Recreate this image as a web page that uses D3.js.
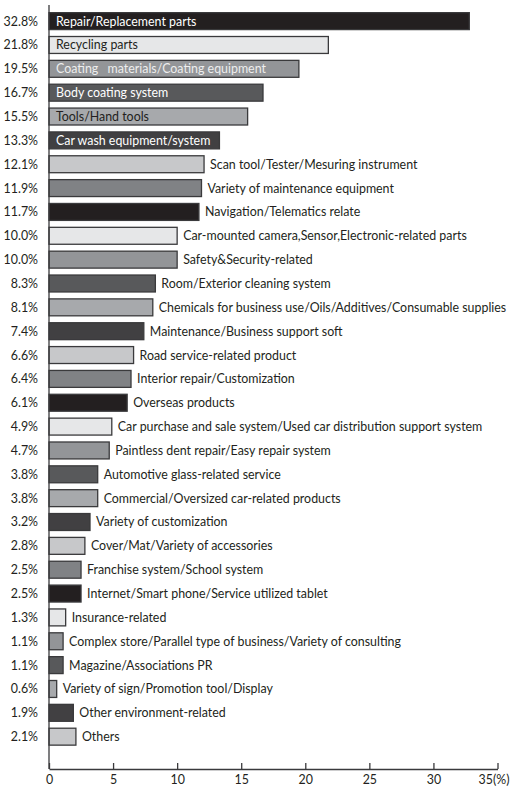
<!DOCTYPE html>
<html>
<head>
<meta charset="utf-8">
<script src="https://cdn.jsdelivr.net/npm/d3@7"></script>
<style>
  body { margin: 0; background: #fff; }
  svg { display: block; font-family: Lato, "Liberation Sans", sans-serif; }
</style>
</head>
<body>
<svg id="chart"></svg>
<script>
// Categories, top to bottom
const categories = [
    "Repair/Replacement parts",
    "Recycling parts",
    "Coating\u2003materials/Coating equipment",
    "Body coating system",
    "Tools/Hand tools",
    "Car wash equipment/system",
    "Scan tool/Tester/Mesuring instrument",
    "Variety of maintenance equipment",
    "Navigation/Telematics relate",
    "Car-mounted camera,Sensor,Electronic-related parts",
    "Safety&Security-related",
    "Room/Exterior cleaning system",
    "Chemicals for business use/Oils/Additives/Consumable supplies",
    "Maintenance/Business support soft",
    "Road service-related product",
    "Interior repair/Customization",
    "Overseas products",
    "Car purchase and sale system/Used car distribution support system",
    "Paintless dent repair/Easy repair system",
    "Automotive glass-related service",
    "Commercial/Oversized car-related products",
    "Variety of customization",
    "Cover/Mat/Variety of accessories",
    "Franchise system/School system",
    "Internet/Smart phone/Service utilized tablet",
    "Insurance-related",
    "Complex store/Parallel type of business/Variety of consulting",
    "Magazine/Associations PR",
    "Variety of sign/Promotion tool/Display",
    "Other environment-related",
    "Others"
];

// Share of answers (%)
const values = [
    32.8, 21.8, 19.5, 16.7, 15.5, 13.3, 12.1, 11.9, 11.7, 10.0,
    10.0, 8.3, 8.1, 7.4, 6.6, 6.4, 6.1, 4.9, 4.7, 3.8,
    3.8, 3.2, 2.8, 2.5, 2.5, 1.3, 1.1, 1.1, 0.6, 1.9,
    2.1
];

const xTicks = [0, 5, 10, 15, 20, 25, 30, 35];

// Fill cycle repeats every 8 bars
const fills = ["#231f20", "#e6e7e8", "#939598", "#58595b", "#a7a9ac", "#414042", "#c7c8ca", "#808285"];
const insideText = ["#ffffff", "#231f20", "#eeeeee", "#ffffff", "#231f20", "#ffffff", "#231f20", "#ffffff"];

const width = 513;
const height = 787;
const axisY = 769;
const fontSize = 12.4;

const svg = d3.select("#chart")
    .attr("width", width)
    .attr("height", height);

const x = d3.scaleLinear()
    .domain([0, 35])
    .range([49, 497.5]);

const y = d3.scaleBand()
    .domain(d3.range(categories.length))
    .range([9.2, 748.6])
    .paddingInner(0.29)
    .paddingOuter(0.145);

const data = categories.map((c, i) => ({ name: c, value: values[i], i: i }));

// Bars
svg.selectAll(".bar")
    .data(data)
    .enter()
    .append("rect")
    .attr("class", "bar")
    .attr("x", x(0))
    .attr("y", d => y(d.i))
    .attr("width", d => x(d.value) - x(0))
    .attr("height", y.bandwidth())
    .attr("fill", d => fills[d.i % 8])
    .attr("stroke", "#3a3a3c")
    .attr("stroke-width", 1.3);

// Percent labels on the left
svg.selectAll(".pct")
    .data(data)
    .enter()
    .append("text")
    .attr("class", "pct")
    .attr("x", 38)
    .attr("y", d => y(d.i) + y.bandwidth() / 2)
    .attr("dy", "0.36em")
    .attr("text-anchor", "end")
    .attr("font-size", fontSize)
    .attr("fill", "#231f20")
    .text(d => d.value.toFixed(1) + "%");

// Category names: inside the long bars, after the others
svg.selectAll(".name")
    .data(data)
    .enter()
    .append("text")
    .attr("class", "name")
    .attr("x", d => d.value >= 13 ? x(0) + 7 : x(d.value) + 6)
    .attr("y", d => y(d.i) + y.bandwidth() / 2)
    .attr("dy", "0.36em")
    .attr("font-size", fontSize)
    .attr("fill", d => d.value >= 13 ? insideText[d.i % 8] : "#231f20")
    .text(d => d.name);

// X axis
const xAxis = svg.append("g")
    .attr("transform", `translate(0,${axisY})`)
    .call(d3.axisBottom(x)
        .tickValues(xTicks)
        .tickSize(-6)
        .tickSizeOuter(0)
        .tickPadding(6)
        .tickFormat(d => d === 35 ? "35(%)" : d));

xAxis.select(".domain").attr("stroke", "#3a3a3c").attr("stroke-width", 1.3);
xAxis.selectAll(".tick line").attr("stroke", "#3a3a3c").attr("stroke-width", 1.3);
xAxis.selectAll(".tick text")
    .attr("font-size", fontSize)
    .attr("font-family", "Lato, 'Liberation Sans', sans-serif")
    .attr("fill", "#231f20")
    .attr("dx", d => d === 35 ? -4 : 0);

// Y axis line
svg.append("line")
    .attr("x1", x(0))
    .attr("x2", x(0))
    .attr("y1", 5)
    .attr("y2", axisY)
    .attr("stroke", "#3a3a3c")
    .attr("stroke-width", 1.3);
</script>
</body>
</html>
